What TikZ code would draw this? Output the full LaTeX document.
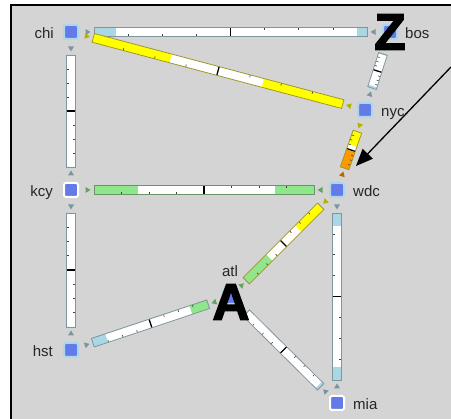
\documentclass[tikz,border=0pt]{standalone}
\usepackage{fontspec}
\setmainfont{Liberation Sans}
\newfontfamily\heavyfont[FakeBold=3]{Liberation Sans Bold}
\usetikzlibrary{arrows.meta, positioning, calc}
\definecolor{bggray}{RGB}{212, 212, 212}
\definecolor{nodeblue}{RGB}{100, 122, 232}
\definecolor{nodeglow}{RGB}{170, 215, 235}
\definecolor{lightblu}{RGB}{170, 215, 228}
\definecolor{yel}{RGB}{255, 255, 0}
\definecolor{grn}{RGB}{144, 230, 138}
\definecolor{orng}{RGB}{255, 153, 0}
\definecolor{edgegray}{RGB}{128, 150, 158}
\definecolor{edgeolive}{RGB}{160, 150, 40}
\definecolor{edgegreen}{RGB}{105, 150, 105}
\tikzset{
  router/.style={rectangle, minimum size=14pt, inner sep=0pt, fill=nodeblue, draw=nodeglow, line width=2pt, rounded corners=1.5pt},
  routerw/.style={router, draw=white},
  lbl/.style={inner sep=0pt, text height=14pt, text depth=0pt, text=black!85, font=\fontsize{15}{16}\selectfont},
  bigmark/.style={inner sep=0pt, font=\fontsize{51}{51}\heavyfont},
  tickmark/.style={line width=0.6pt, black!75},
  pointer/.style={line width=1.3pt, -{Triangle[length=17pt, width=14pt]}}
}
% bar between two routers: from, to, fill from, colour from, fill to, colour to, outline
\newcommand\linkbar[7]{%
  \path let \p1=($(#2)-(#1)$) in \pgfextra{%
    \pgfmathsetmacro\lkang{atan2(\y1,\x1)}\global\let\lkang\lkang
    \pgfmathsetmacro\lklen{veclen(\x1,\y1)}\global\let\lklen\lklen};
  \begin{scope}[shift={(#1)}, rotate=\lkang, x=1pt, y=1pt]
    \pgfmathsetmacro\lkh{(\lklen-46)/2}
    \pgfmathsetmacro\lkb{\lklen-23}
    \pgfmathsetmacro\lkm{23+\lkh}
    \fill[white] (23,-4.5) rectangle (\lkb,4.5);
    \fill[#4] (23,-4.5) rectangle ({23+#3*\lkh},4.5);
    \fill[#6] ({\lkb-#5*\lkh},-4.5) rectangle (\lkb,4.5);
    \foreach \k in {1,2,3} {
      \draw[tickmark] ({23+\k*\lkh/4},-4.5) -- ++(0,2.5);
      \draw[tickmark] ({\lkb-\k*\lkh/4},4.5) -- ++(0,-2.5);
    }
    \draw[line width=1.3pt] (\lkm,-4.5) -- (\lkm,4.5);
    \draw[#7, line width=0.8pt] (23,-4.5) rectangle (\lkb,4.5);
    \fill[#4!70!black] (19.5,0) -- (14.5,3) -- (14.5,-3) -- cycle;
    \fill[#6!70!black] ({\lklen-19.5},0) -- ({\lklen-14.5},3) -- ({\lklen-14.5},-3) -- cycle;
  \end{scope}}
\begin{document}
\begin{tikzpicture}[x=1pt, y=-1pt]
  \useasboundingbox (0,0) rectangle (451,419);
  \fill[bggray] (11,5) rectangle (451,419);
  \draw[line width=1.6pt] (11,419) -- (11,5) -- (451,5);

  \node[router] (chi) at (71,32) {};
  \node[router] (bos) at (390,32) {};
  \node[router] (nyc) at (365,110) {};
  \node[routerw] (kcy) at (71,190) {};
  \node[router] (wdc) at (337,190) {};
  \node[router] (atl) at (230,297) {};
  \node[router] (hst) at (71,350) {};
  \node[routerw] (mia) at (337,403) {};

  \node[lbl, left=9pt of chi] (chilbl) {chi};
  \node[lbl, right=7pt of bos] (boslbl) {bos};
  \node[lbl, right=8pt of nyc] (nyclbl) {nyc};
  \node[lbl, left=10pt of kcy] (kcylbl) {kcy};
  \node[lbl, right=8pt of wdc] (wdclbl) {wdc};
  \node[lbl, above=12pt of atl] (atllbl) {atl};
  \node[lbl, left=10pt of hst] (hstlbl) {hst};
  \node[lbl, right=8pt of mia] (mialbl) {mia};

  \linkbar{chi}{bos}{0.16}{lightblu}{0.07}{lightblu}{edgegray}
  \linkbar{chi}{nyc}{0.62}{yel}{0.64}{yel}{edgeolive}
  \linkbar{chi}{kcy}{0}{lightblu}{0}{lightblu}{edgegray}
  \linkbar{bos}{nyc}{0.05}{lightblu}{0.12}{lightblu}{edgegray}
  \linkbar{nyc}{wdc}{0.75}{yel}{0.95}{orng}{edgeolive}
  \linkbar{kcy}{wdc}{0.4}{grn}{0.35}{grn}{edgegreen}
  \linkbar{kcy}{hst}{0}{lightblu}{0}{lightblu}{edgegray}
  \linkbar{wdc}{atl}{0.6}{yel}{0.62}{grn}{edgeolive}
  \linkbar{wdc}{mia}{0.16}{lightblu}{0.15}{lightblu}{edgegray}
  \linkbar{atl}{mia}{0}{lightblu}{0.05}{lightblu}{edgegray}
  \linkbar{hst}{atl}{0.24}{lightblu}{0.3}{grn}{edgegray}

  \node[bigmark] (zmark) at (bos) {Z};
  \node[bigmark] (amark) at ($(atl)+(1,5)$) {A};

  \coordinate (ptrstart) at (451,67);
  \coordinate (ptrtip) at (356,166);
  \draw[pointer] (ptrstart) -- (ptrtip);
\end{tikzpicture}
\end{document}
